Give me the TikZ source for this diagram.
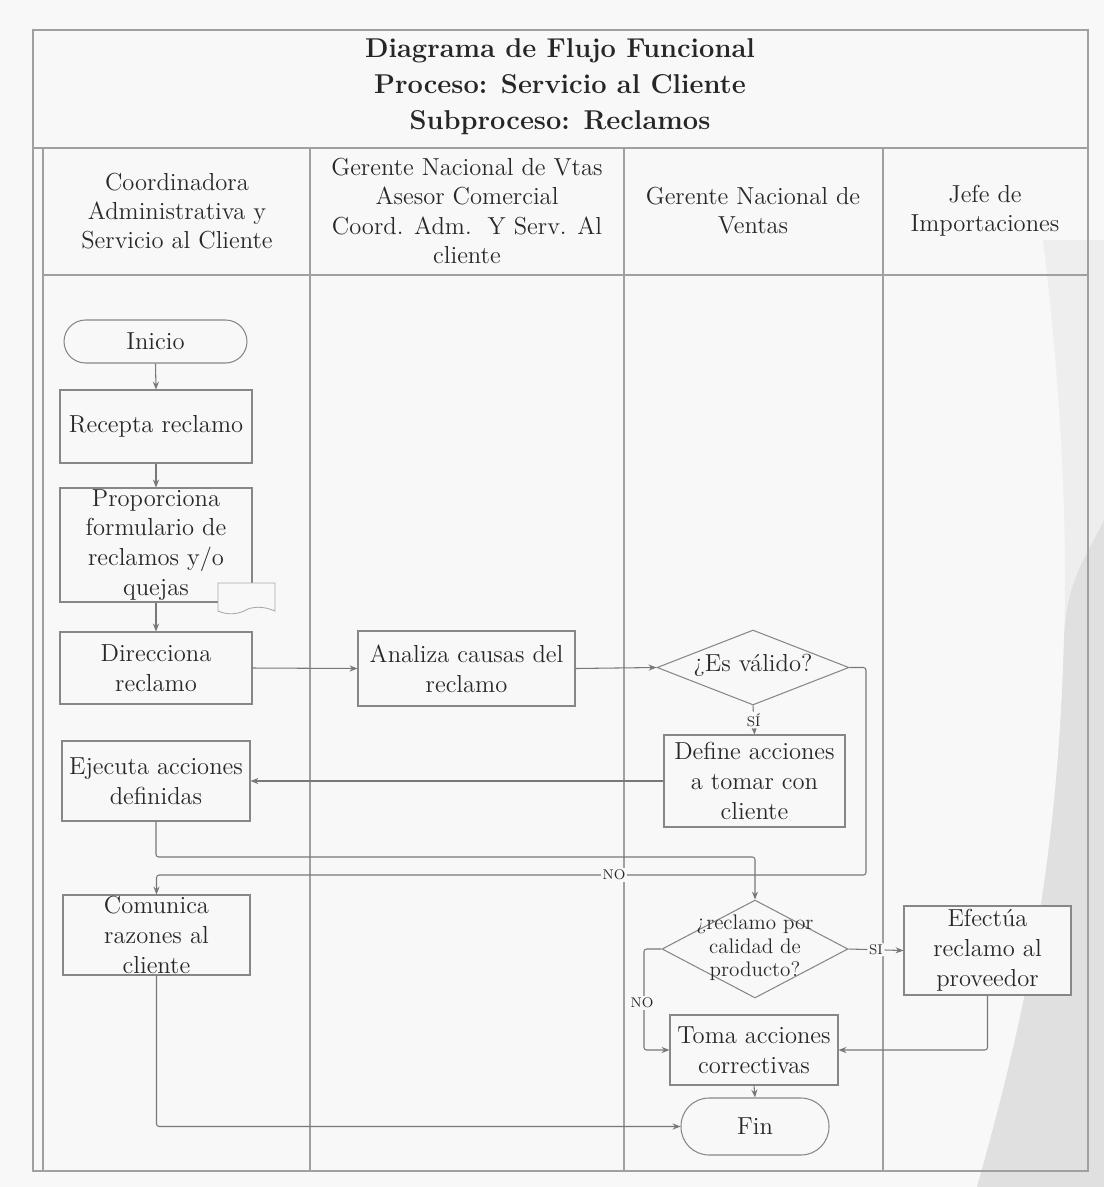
\documentclass[tikz,border=0pt]{standalone}
\usepackage{fontspec}
\usetikzlibrary{shapes.geometric,arrows.meta}
\definecolor{bg}{RGB}{248,248,248}
\definecolor{deco}{RGB}{224,224,224}
\definecolor{decol}{RGB}{238,238,238}
\definecolor{ln}{RGB}{120,120,120}
\definecolor{bx}{RGB}{135,135,135}
\definecolor{tl}{RGB}{160,160,160}
\definecolor{txt}{RGB}{40,40,40}
\begin{document}
\begin{tikzpicture}[x=0.02cm,y=-0.02cm,
  box/.style={draw=bx, fill=bg, line width=0.6pt, inner xsep=1pt, inner ysep=0pt, align=center,
    font=\fontsize{14}{17}\selectfont, text=txt},
  dia/.style={draw=bx, fill=bg, diamond, line width=0.6pt, inner sep=0pt},
  diatext/.style={align=center, text=txt, inner sep=0pt},
  flow/.style={draw=ln, line width=0.6pt, -{Stealth[length=4.5pt,width=3.5pt]}, rounded corners=1.5pt},
  lab/.style={font=\fontsize{8}{9}\selectfont, fill=bg, inner sep=1pt, text=txt},
  lane/.style={draw=tl, line width=0.8pt},
  head/.style={align=center, text=txt, font=\fontsize{14}{16.6}\selectfont}
]
% canvas
\useasboundingbox (0,0) rectangle (1104,1187);
\fill[bg] (0,0) rectangle (1104,1187);
\fill[decol] (1043,240) .. controls (1060,380) and (1068,520) .. (1064,640)
  .. controls (1058,850) and (1030,1000) .. (977,1187) -- (1104,1187) -- (1104,240) -- cycle;
\fill[deco] (1104,520) .. controls (1085,560) and (1066,580) .. (1064,640)
  .. controls (1058,850) and (1030,1000) .. (977,1187) -- (1104,1187) -- cycle;

% table
\draw[lane] (33,30) rectangle (1088,1171);
\draw[lane] (43,148) -- (43,1171);
\draw[lane] (33,148) -- (1088,148);
\draw[lane] (43,275) -- (1088,275);
\draw[lane] (310,148) -- (310,1171);
\draw[lane] (624,148) -- (624,1171);
\draw[lane] (883,148) -- (883,1171);

% title
\node[align=center, text=black!85, font=\fontsize{15.5}{20.5}\selectfont\bfseries] (title) at (560,87)
  {Diagrama de Flujo Funcional\\Proceso: Servicio al Cliente\\Subproceso: Reclamos};

% headers
\node[head] (h1) at (177,211) {Coordinadora\\Administrativa y\\Servicio al Cliente};
\node[head] (h2) at (467,211) {Gerente Nacional de Vtas\\Asesor Comercial\\Coord. Adm.\ \ Y Serv. Al\\cliente};
\node[head] (h3) at (753,211) {Gerente Nacional de\\Ventas};
\node[head] (h4) at (985,211) {Jefe de\\Importaciones};

% nodes
\node[box, rounded corners=0.43cm, minimum width=3.66cm, minimum height=0.86cm] (inicio) at (155.5,341.5) {Inicio};
\node[box, minimum width=3.84cm, minimum height=1.46cm] (recepta) at (156,426.5) {Recepta reclamo};
\node[box, minimum width=3.84cm, minimum height=2.28cm] (prop) at (156,545) {Proporciona\\formulario de\\reclamos y/o\\quejas};
% document symbol
\filldraw[draw=bx!70, fill=bg, line width=0.5pt] (218,583) -- (275,583) -- (275,611)
  .. controls (266,607) and (256,606) .. (248,609)
  .. controls (238,615) and (227,615) .. (218,611) -- cycle;
\node[box, minimum width=3.84cm, minimum height=1.44cm] (direcciona) at (156,668) {Direcciona\\reclamo};
\node[box, minimum width=4.34cm, minimum height=1.5cm] (analiza) at (466.5,668.5) {Analiza causas del\\reclamo};
\node[dia, minimum width=3.84cm, minimum height=1.5cm] (valido) at (753,667.5) {};
\node[diatext, font=\fontsize{14}{17}\selectfont] (validot) at (753,665) {¿Es válido?};
\node[box, minimum width=3.62cm, minimum height=1.84cm] (define) at (754.5,781) {Define acciones\\a tomar con\\cliente};
\node[box, minimum width=3.76cm, minimum height=1.6cm] (ejecuta) at (156,781) {Ejecuta acciones\\definidas};
\node[box, minimum width=3.74cm, minimum height=1.6cm] (comunica) at (156.5,935) {Comunica\\razones al\\cliente};
\node[dia, minimum width=3.72cm, minimum height=1.96cm] (calidad) at (755,949) {};
\node[diatext, font=\fontsize{12}{13.4}\selectfont] (calidadt) at (755,948) {¿reclamo por\\calidad de\\producto?};
\node[box, minimum width=3.34cm, minimum height=1.78cm] (efectua) at (987.5,950.5) {Efectúa\\reclamo al\\proveedor};
\node[box, minimum width=3.36cm, minimum height=1.4cm] (toma) at (754,1050) {Toma acciones\\correctivas};
\node[box, rounded corners=0.56cm, minimum width=2.96cm, minimum height=1.14cm] (fin) at (755,1126.5) {Fin};

% connectors
\draw[flow] (inicio.south) -- (recepta.north);
\draw[flow] (recepta.south) -- (prop.north);
\draw[flow] (prop.south) -- (direcciona.north);
\draw[flow] (direcciona.east) -- (analiza.west);
\draw[flow] (analiza.east) -- (valido.west);
\draw[flow] (valido.south) -- (define.north) node[lab, midway] (si1) {SÍ};
\draw[flow] (define.west) -- (ejecuta.east);
\coordinate (ej1) at (156,857);
\draw[flow] (ejecuta.south) -- (ej1) -| (calidad.north);
\coordinate (noR) at (866,875);
\draw[flow] (valido.east) -| (noR) -| (comunica.north);
\node[lab] (no1) at (614,875) {NO};
\draw[flow] (comunica.south) |- (fin.west);
\draw[flow] (calidad.east) -- (efectua.west) node[lab, midway] (si2) {SI};
\coordinate (noL) at (644,949);
\draw[flow] (calidad.west) -- (noL) |- (toma.west);
\node[lab] (no2) at (642,1003) {NO};
\draw[flow] (efectua.south) |- (toma.east);
\draw[flow] (toma.south) -- (fin.north);
\end{tikzpicture}
\end{document}
